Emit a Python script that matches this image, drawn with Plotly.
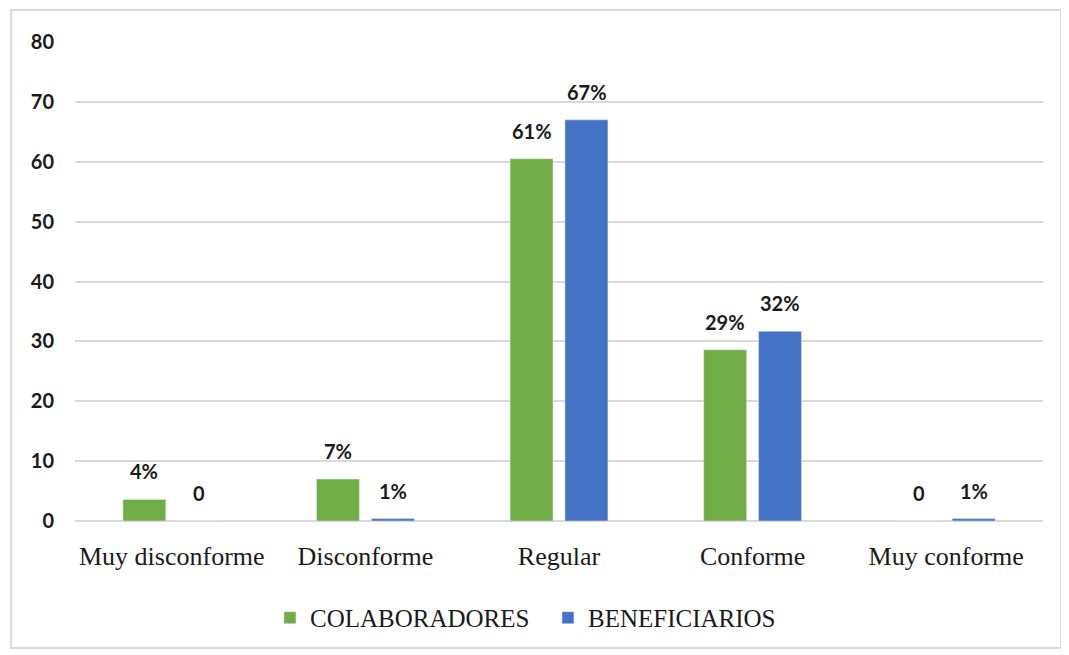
import plotly.graph_objects as go

categories = ["Muy disconforme", "Disconforme", "Regular", "Conforme", "Muy conforme"]
colaboradores = [3.6, 7.0, 60.5, 28.6, 0]
beneficiarios = [0, 0.4, 67.0, 31.7, 0.4]
colab_labels = ["4%", "7%", "61%", "29%", "0"]
benef_labels = ["0", "1%", "67%", "32%", "1%"]
y_ticks = [0, 10, 20, 30, 40, 50, 60, 70, 80]

GREEN = "#70AD47"
BLUE = "#4472C4"
SERIF = "Liberation Serif, Times New Roman, serif"
SANS = "Lato, Liberation Sans, Arial"

fig = go.Figure()
fig.add_trace(go.Bar(name="COLABORADORES", x=categories, y=colaboradores,
                     marker=dict(color=GREEN), hoverinfo="skip"))
fig.add_trace(go.Bar(name="BENEFICIARIOS", x=categories, y=beneficiarios,
                     marker=dict(color=BLUE), hoverinfo="skip"))

label_font = dict(family=SANS, size=20, color="#1a1a1a", weight="bold")
annotations = []
for c, v, t in zip(categories, colaboradores, colab_labels):
    annotations.append(dict(x=c, y=v, text=t, showarrow=False,
                            xshift=-27.5, yshift=28, yanchor="middle", font=label_font))
for c, v, t in zip(categories, beneficiarios, benef_labels):
    annotations.append(dict(x=c, y=v, text=t, showarrow=False,
                            xshift=27.5, yshift=28, yanchor="middle", font=label_font))

# page body has an 8px margin: figure is sized so the plot area lands at the reference pixels
fig.update_layout(
    width=1061, height=647,
    margin=dict(l=67, r=26, t=34, b=134),
    paper_bgcolor="white", plot_bgcolor="white",
    barmode="group", bargap=0.433, bargroupgap=0.218,
    annotations=annotations,
    showlegend=True,
    legend=dict(orientation="h", x=0.2014, xanchor="left", y=-0.2025, yanchor="middle",
                font=dict(family=SERIF, size=25, color="#1a1a1a"),
                itemwidth=30, entrywidth=233, traceorder="normal"),
    xaxis=dict(showgrid=False, showline=False, ticks="",
               tickfont=dict(family=SERIF, size=26, color="#1a1a1a"),
               ticklabelstandoff=17),
    yaxis=dict(range=[0, 80], tickvals=y_ticks, showgrid=True, gridcolor="#d9d9d9", gridwidth=1.5,
               zeroline=True, zerolinecolor="#d9d9d9", zerolinewidth=1.5, showline=False,
               tickfont=dict(family=SANS, size=20, color="#1a1a1a", weight="bold"),
               ticklabelstandoff=20),
    shapes=[dict(type="rect", xref="paper", yref="paper", x0=-0.066, x1=1.0186,
                 y0=-0.265, y1=1.0668, line=dict(color="#d9d9d9", width=2), layer="below")],
)

fig.write_html("out.html")
